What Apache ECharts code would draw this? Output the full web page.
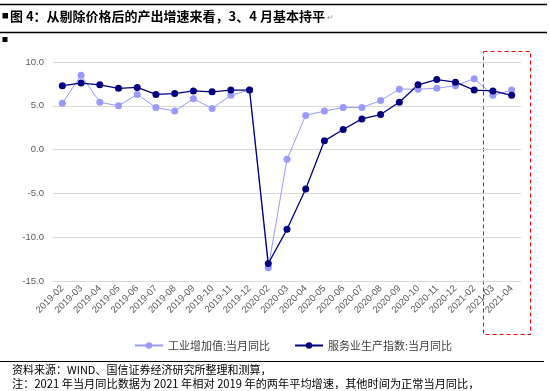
<!DOCTYPE html>
<html>
<head>
<meta charset="utf-8">
<script src="https://cdn.jsdelivr.net/npm/echarts@6/dist/echarts.min.js"></script>
<style>
html,body{margin:0;padding:0;background:#fff;}
#c{width:550px;height:391px;}
</style>
</head>
<body>
<div id="c"></div>
<script>
var categories = ['2019-02','2019-03','2019-04','2019-05','2019-06','2019-07','2019-08','2019-09','2019-10','2019-11','2019-12',
  '2020-02','2020-03','2020-04','2020-05','2020-06','2020-07','2020-08','2020-09','2020-10','2020-11','2020-12',
  '2021-02','2021-03','2021-04'];
var industry = [5.3,8.5,5.4,5.0,6.3,4.8,4.4,5.8,4.7,6.2,6.8,
  -13.5,-1.1,3.9,4.4,4.8,4.8,5.6,6.9,6.9,7.0,7.3,
  8.1,6.2,6.8];
var services = [7.3,7.6,7.4,7.0,7.1,6.3,6.4,6.7,6.6,6.8,6.8,
  -13.0,-9.1,-4.5,1.0,2.3,3.5,4.0,5.4,7.4,8.0,7.7,
  6.8,6.7,6.2];
var seriesNames = ['工业增加值:当月同比','服务业生产指数:当月同比'];
var titleText = '图 4：从剔除价格后的产出增速来看，3、4 月基本持平';
var sourceText = '资料来源：WIND、国信证券经济研究所整理和测算，';
var noteText = '注：2021 年当月同比数据为 2021 年相对 2019 年的两年平均增速，其他时间为正常当月同比，';

var cjk = '"Noto Sans CJK SC", "Liberation Sans", sans-serif';
var chart = echarts.init(document.getElementById('c'));
chart.setOption({
  animation: false,
  backgroundColor: '#fff',
  grid: {left: 53, right: 29, top: 62, bottom: 110},
  legend: {
    left: 129, top: 335, itemWidth: 28, itemHeight: 8, itemGap: 24,
    textStyle: {fontFamily: cjk, fontSize: 11, color: '#404040'},
    data: seriesNames
  },
  xAxis: {
    type: 'category', data: categories, boundaryGap: true,
    axisLine: {onZero: false, lineStyle: {color: '#d9d9d9'}},
    axisTick: {show: false},
    axisLabel: {rotate: 45, fontSize: 9.5, color: '#595959', margin: 6, interval: 0, fontFamily: 'Liberation Sans, Arial, sans-serif'}
  },
  yAxis: {
    type: 'value', min: -15, max: 10, interval: 5,
    axisLine: {show: false}, axisTick: {show: false},
    splitLine: {lineStyle: {color: '#d9d9d9'}},
    axisLabel: {fontSize: 9.5, color: '#595959', margin: 9, fontFamily: 'Liberation Sans, Arial, sans-serif',
      formatter: function(v){ return v.toFixed(1); }}
  },
  series: [
    {name: seriesNames[0], type: 'line', data: industry, symbol: 'circle', symbolSize: 7,
      itemStyle: {color: '#9999FF'}, lineStyle: {color: '#9999FF', width: 1}},
    {name: seriesNames[1], type: 'line', data: services, symbol: 'circle', symbolSize: 7,
      itemStyle: {color: '#000080'}, lineStyle: {color: '#000080', width: 1.3}}
  ],
  graphic: [
    {type: 'line', shape: {x1: 0, y1: 4.5, x2: 547, y2: 4.5}, style: {stroke: '#000', lineWidth: 1.5}},
    {type: 'line', shape: {x1: 0, y1: 32.5, x2: 547, y2: 32.5}, style: {stroke: '#000', lineWidth: 1.5}},
    {type: 'rect', shape: {x: 2.5, y: 13, width: 5.5, height: 5.5}, style: {fill: '#000'}},
    {type: 'text', x: 10, y: 16, style: {text: titleText, font: 'bold 13px ' + cjk, fill: '#000', textVerticalAlign: 'middle'}},
    {type: 'text', x: 327, y: 17, style: {text: '↵', font: '8px ' + cjk, fill: '#999', textVerticalAlign: 'middle'}},
    {type: 'rect', shape: {x: 2.5, y: 37, width: 5, height: 5}, style: {fill: '#000'}},
    {type: 'rect', shape: {x: 483.5, y: 51.5, width: 47, height: 283}, style: {fill: 'none', stroke: '#FF0000', lineWidth: 1, lineDash: [4, 3]}},
    {type: 'line', shape: {x1: 0, y1: 361.5, x2: 544, y2: 361.5}, style: {stroke: '#000', lineWidth: 1.2}},
    {type: 'text', x: 12, y: 369.5, style: {text: sourceText, font: '11px ' + cjk, fill: '#000', textVerticalAlign: 'middle'}},
    {type: 'text', x: 12, y: 383.5, style: {text: noteText, font: '11.2px ' + cjk, fill: '#000', textVerticalAlign: 'middle'}}
  ]
});
</script>
</body>
</html>
